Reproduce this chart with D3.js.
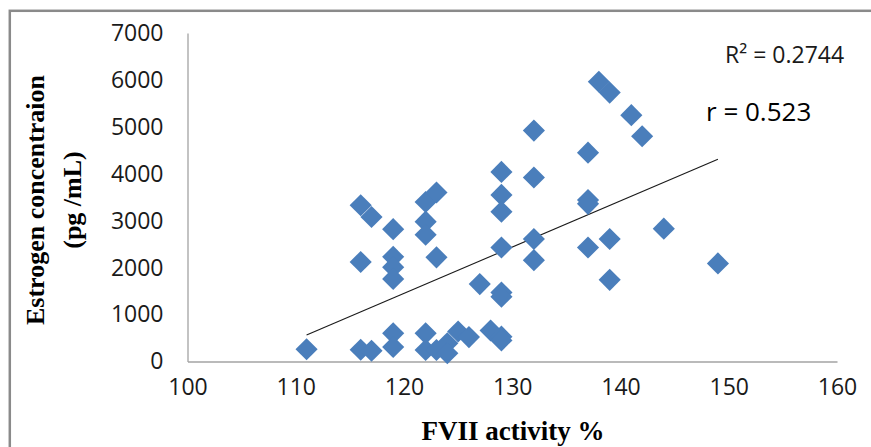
<!DOCTYPE html>
<html>
<head>
<meta charset="utf-8">
<script src="https://cdn.jsdelivr.net/npm/d3@7"></script>
<style>
  html, body { margin: 0; padding: 0; background: #fff; }
  svg { display: block; }
</style>
</head>
<body>
<div id="chart"></div>
<script>
// data
const fvii = [
  111,
  116, 116, 116,
  117, 117,
  119, 119, 119, 119, 119, 119,
  122, 122, 122, 122, 122,
  123, 123, 123,
  124, 124, 125, 126, 127, 128,
  129, 129, 129, 129, 129, 129, 129, 129,
  132, 132, 132, 132,
  137, 137, 137, 137,
  138, 139, 139, 139,
  141, 142, 144, 149
];
const estrogen = [
  260,
  3330, 2120, 250,
  3080, 230,
  2820, 2230, 2010, 1760, 600, 310,
  3400, 2980, 2700, 600, 245,
  3600, 2220, 245,
  390, 175, 640, 520, 1650, 660,
  4040, 3550, 3190, 2430, 1470, 1380, 530, 450,
  4920, 3920, 2610, 2160,
  4450, 3440, 3360, 2430,
  5960, 5730, 2610, 1740,
  5250, 4800, 2830, 2090
];
// linear trendline, ends read at the first and last x
const trendX = [111, 149];
const trendY = [565, 4310];
const xTicks = [100, 110, 120, 130, 140, 150, 160];
const yTicks = [0, 1000, 2000, 3000, 4000, 5000, 6000, 7000];

const W = 871, H = 447;
const plot = { left: 187.5, right: 837, top: 33, bottom: 361.5 };

const svg = d3.select("#chart").append("svg")
  .attr("width", W).attr("height", H);

// outer chart border (runs off the right and bottom edge)
svg.append("rect")
  .attr("x", 9.8).attr("y", 10.8)
  .attr("width", 1000).attr("height", 1000)
  .attr("fill", "none")
  .attr("stroke", "#8a8a8a")
  .attr("stroke-width", 2.5);

const x = d3.scaleLinear().domain([100, 160]).range([plot.left, plot.right]);
const y = d3.scaleLinear().domain([0, 7000]).range([plot.bottom, plot.top]);

const tickFont = "'Open Sans', sans-serif";

// axes
const xAxis = svg.append("g")
  .attr("transform", `translate(0,${plot.bottom})`)
  .call(d3.axisBottom(x).tickValues(xTicks).tickSize(0).tickPadding(17));
const yAxis = svg.append("g")
  .attr("transform", `translate(${plot.left},0)`)
  .call(d3.axisLeft(y).tickValues(yTicks).tickSize(0).tickPadding(24)
    .tickFormat(d3.format("d")));

[xAxis, yAxis].forEach(a => {
  a.select(".domain").attr("stroke", "#a3a3a3").attr("stroke-width", 1.3);
  a.selectAll("text")
    .attr("fill", "#1a1a1a")
    .style("font-family", tickFont)
    .style("font-size", "23px");
});

// trendline
svg.append("line")
  .attr("x1", x(trendX[0])).attr("y1", y(trendY[0]))
  .attr("x2", x(trendX[1])).attr("y2", y(trendY[1]))
  .attr("stroke", "#1a1a1a").attr("stroke-width", 1.1);

// diamonds
const diamond = d3.symbol().type(d3.symbolSquare).size(245);
svg.append("g")
  .selectAll("path")
  .data(fvii.map((v, i) => ({ x: v, y: estrogen[i] })))
  .join("path")
  .attr("d", diamond)
  .attr("transform", d => `translate(${x(d.x)},${y(d.y)}) rotate(45)`)
  .attr("fill", "#4a7ebb");

// annotations
svg.append("text")
  .attr("x", 725).attr("y", 63)
  .style("font-family", tickFont).style("font-size", "23px")
  .attr("fill", "#1a1a1a")
  .text("R² = 0.2744");
svg.append("text")
  .attr("x", 706).attr("y", 121)
  .style("font-family", tickFont).style("font-size", "26px")
  .attr("fill", "#000")
  .text("r = 0.523");

// axis titles
const titleFont = "'Liberation Serif', 'Times New Roman', serif";
svg.append("text")
  .attr("x", 513).attr("y", 440)
  .attr("text-anchor", "middle")
  .style("font-family", titleFont).style("font-weight", "bold").style("font-size", "27px")
  .text("FVII activity %");

const yTitle = svg.append("text")
  .attr("transform", "translate(0,200) rotate(-90)")
  .attr("text-anchor", "middle")
  .style("font-family", titleFont).style("font-weight", "bold").style("font-size", "26px");
yTitle.append("tspan").attr("x", 0).attr("y", 44).text("Estrogen concentraion");
yTitle.append("tspan").attr("x", 0).attr("y", 81).text("(pg /mL)");
</script>
</body>
</html>
